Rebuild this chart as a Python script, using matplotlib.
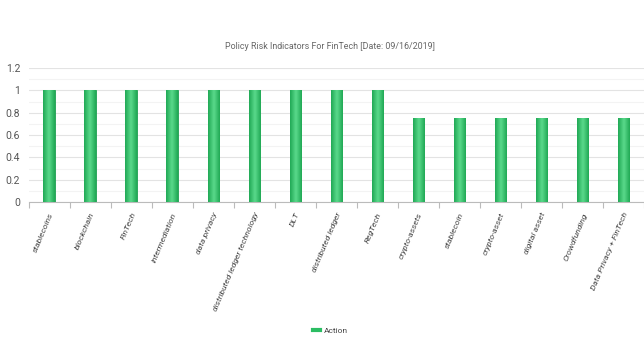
import matplotlib
matplotlib.use("Agg")
import matplotlib.pyplot as plt
import numpy as np
from matplotlib.ticker import MultipleLocator
from matplotlib.colors import LinearSegmentedColormap

categories = ["stablecoins", "blockchain", "FinTech", "intermediation", "data privacy",
              "distributed ledger technology", "DLT", "distributed ledger", "RegTech",
              "crypto-assets", "stablecoin", "crypto-asset", "digital asset",
              "Crowdfunding", "Data Privacy + FinTech"]
values = [1, 1, 1, 1, 1, 1, 1, 1, 1, 0.75, 0.75, 0.75, 0.75, 0.75, 0.75]
series_name = "Action"
title = "Policy Risk Indicators For FinTech [Date: 09/16/2019]"

plt.rcParams['font.family'] = ['Roboto', 'DejaVu Sans']

fig = plt.figure(figsize=(6.44, 3.37), dpi=100)
ax = fig.add_axes([0.0443, 0.4006, 0.955, 0.3976])

x = np.arange(len(categories))
bars = ax.bar(x, values, width=0.27, color='#2bbd63', edgecolor='#1f9e52', linewidth=0.6,
              label=series_name, zorder=3)

grad = np.linspace(0, 1, 64)
grad = (1 - np.abs(grad - 0.5) * 2).reshape(1, -1)
cmap = LinearSegmentedColormap.from_list('g', ['#1fa854', '#5ad98b'])
for b in bars:
    x0, y0 = b.get_x(), b.get_y()
    w, h = b.get_width(), b.get_height()
    im = ax.imshow(grad, extent=[x0, x0 + w, y0, y0 + h], aspect='auto', cmap=cmap,
                   zorder=3.5, interpolation='bicubic')
    im.set_clip_path(b)

ax.set_xlim(-0.5, len(categories) - 0.5)
ax.set_ylim(0, 1.2)
ax.yaxis.set_minor_locator(MultipleLocator(0.1))
ax.set_yticks(np.arange(0, 1.21, 0.2))
ax.set_yticklabels(["0", "0.2", "0.4", "0.6", "0.8", "1", "1.2"])
ax.grid(axis='y', which='major', color='#e3e3e3', linewidth=0.8, zorder=0)
ax.grid(axis='y', which='minor', color='#f3f3f3', linewidth=0.8, zorder=0)

ax.set_xticks(x)
ax.set_xticklabels(categories, rotation=67, ha='right', va='top', rotation_mode='anchor',
                   fontsize=6.1, color='#444444', style='italic')
ax.tick_params(axis='x', which='major', length=0, pad=7)
ax.set_xticks(np.arange(-0.5, len(categories), 1), minor=True)
ax.tick_params(axis='x', which='minor', length=4, color='#bbbbbb', width=0.8)
ax.tick_params(axis='y', which='both', length=0, labelsize=7.5, labelcolor='#555555', pad=6)

for s in ['top', 'right', 'left']:
    ax.spines[s].set_visible(False)
ax.spines['bottom'].set_color('#bbbbbb')
ax.spines['bottom'].set_linewidth(0.8)

fig.text(0.512, 0.862, title, ha='center', va='center', fontsize=6.4, color='#666666')

leg = fig.legend(handles=[plt.Line2D([], [], color='#2bbd63', linewidth=3)], labels=[series_name],
                 loc='center', bbox_to_anchor=(0.513, 0.018), frameon=False, fontsize=6,
                 handlelength=0.9, handletextpad=0.4)
for t in leg.get_texts():
    t.set_color('#444444')

fig.savefig("out.png", dpi=100)
